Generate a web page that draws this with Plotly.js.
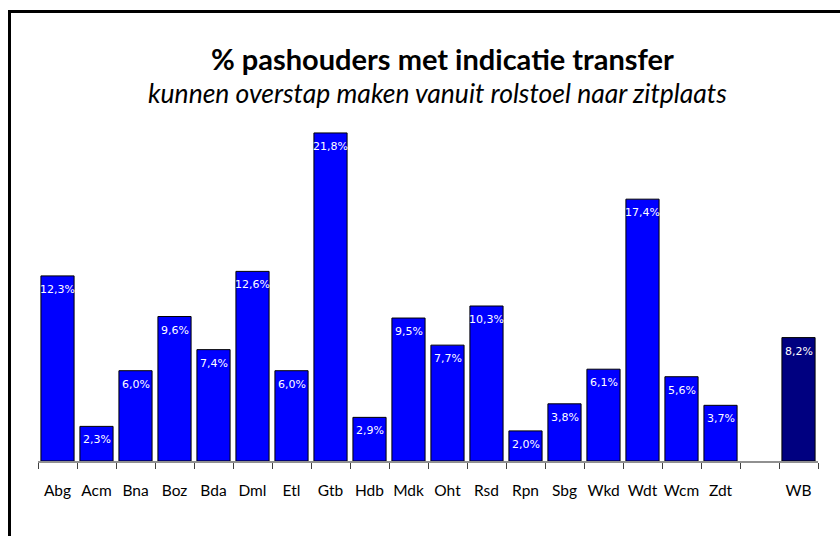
<!DOCTYPE html>
<html>
<head>
<meta charset="utf-8">
<script src="https://cdn.plot.ly/plotly-3.0.1.min.js"></script>
<style>
html,body{margin:0;padding:0;background:#fff;overflow:hidden;}
#wrap{position:relative;width:840px;height:536px;overflow:hidden;}
#chart{width:840px;height:536px;}
#frame{position:absolute;left:8px;top:10px;width:900px;height:600px;border-top:3px solid #000;border-left:3px solid #000;pointer-events:none;}
</style>
</head>
<body>
<div id="wrap"><div id="chart"></div><div id="frame"></div></div>
<script>
const categories = ["Abg","Acm","Bna","Boz","Bda","Dml","Etl","Gtb","Hdb","Mdk","Oht","Rsd","Rpn","Sbg","Wkd","Wdt","Wcm","Zdt","\u00a0","WB"];
const values = [12.3,2.3,6.0,9.6,7.4,12.6,6.0,21.8,2.9,9.5,7.7,10.3,2.0,3.8,6.1,17.4,5.6,3.7,null,8.2];
const labels = values.map(v => v === null ? "" : v.toFixed(1).replace(".", ",") + "%");
const colors = categories.map(c => c === "WB" ? "#000080" : "#0000FF");

const trace = {
  type: "bar",
  x: categories,
  y: values,
  marker: {color: colors, line: {color: "#000000", width: 1}},
  hoverinfo: "none"
};

const px = x => (x - 38) / 780;
const py = y => (461 - y) / 341;

const valueLabels = categories.map((c, i) => values[i] === null ? null : ({
  text: labels[i], x: c, y: values[i], xref: "x", yref: "y",
  xanchor: "center", yanchor: "middle", yshift: -13.5, showarrow: false,
  font: {family: "DejaVu Sans", size: 11, color: "#ffffff"}
})).filter(a => a);

const layout = {
  width: 840, height: 536,
  margin: {l: 38, r: 22, t: 120, b: 75},
  paper_bgcolor: "#ffffff", plot_bgcolor: "#ffffff",
  bargap: 0.15,
  showlegend: false,
  xaxis: {
    type: "category",
    categoryorder: "array", categoryarray: categories,
    tickson: "boundaries",
    tickangle: 0,
    ticks: "outside", ticklen: 6, tickcolor: "#404040", tickwidth: 1,
    showline: true, linecolor: "#909090", linewidth: 2,
    showgrid: false, zeroline: false,
    ticklabelstandoff: 14,
    tickfont: {family: "Lato", size: 15.5, color: "#000000"}
  },
  yaxis: {
    range: [0, 22.66],
    visible: false, showgrid: false, zeroline: false
  },
  annotations: [
    {text: "<b>% pashouders met indicatie transfer</b>", xref: "paper", yref: "paper",
     x: px(442), y: py(59), xanchor: "center", yanchor: "middle", showarrow: false,
     font: {family: "Lato", size: 29, color: "#000000"}},
    {text: "<i>kunnen overstap maken vanuit rolstoel naar zitplaats</i>", xref: "paper", yref: "paper",
     x: px(438), y: py(93), xanchor: "center", yanchor: "middle", showarrow: false,
     font: {family: "Lato", size: 26.5, color: "#000000"}}
  ].concat(valueLabels)
};

Plotly.newPlot("chart", [trace], layout, {staticPlot: true, displayModeBar: false});
</script>
</body>
</html>
